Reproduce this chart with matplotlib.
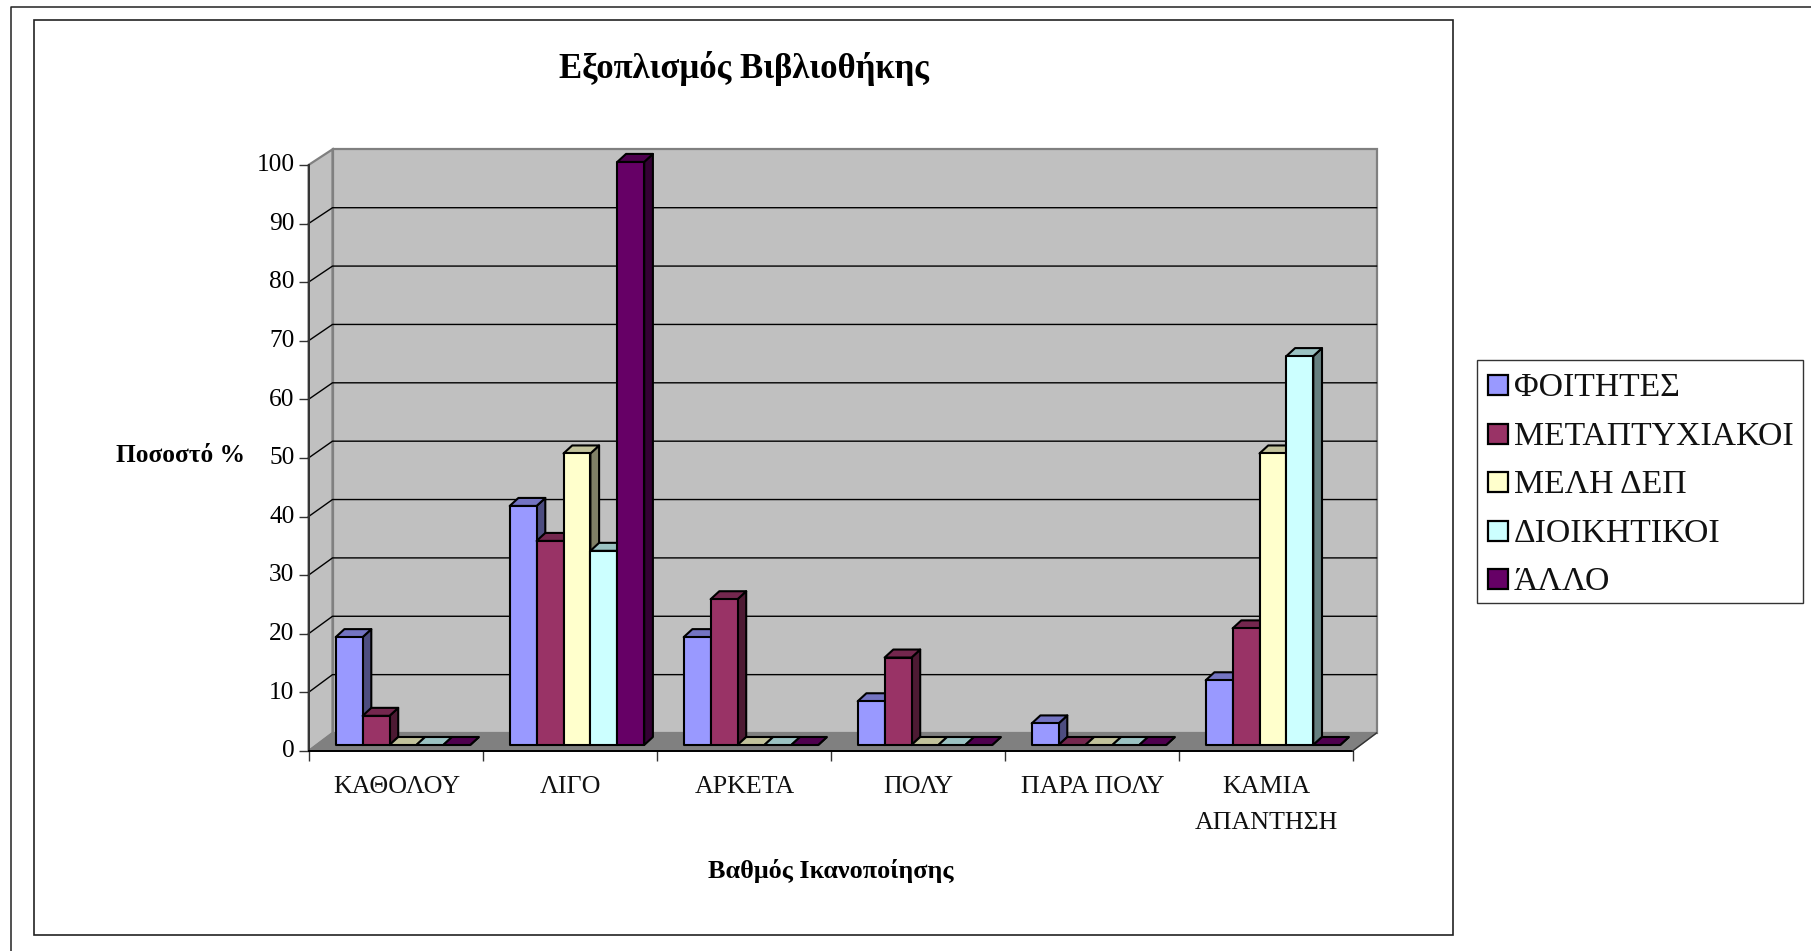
import matplotlib
matplotlib.use("Agg")
import matplotlib.pyplot as plt
from matplotlib.patches import Polygon, Rectangle
from matplotlib.colors import to_rgb
from matplotlib.transforms import ScaledTranslation

categories = ["ΚΑΘΟΛΟΥ", "ΛΙΓΟ", "ΑΡΚΕΤΑ", "ΠΟΛΥ", "ΠΑΡΑ ΠΟΛΥ", "ΚΑΜΙΑ\nΑΠΑΝΤΗΣΗ"]
series_names = ["ΦΟΙΤΗΤΕΣ", "ΜΕΤΑΠΤΥΧΙΑΚΟΙ", "ΜΕΛΗ ΔΕΠ", "ΔΙΟΙΚΗΤΙΚΟΙ", "ΆΛΛΟ"]
foitites = [18.5, 41, 18.5, 7.5, 3.7, 11.1]
metaptyxiakoi = [5, 35, 25, 15, 0, 20]
meli_dep = [0, 50, 0, 0, 0, 50]
dioikitikoi = [0, 33.3, 0, 0, 0, 66.7]
allo = [0, 100, 0, 0, 0, 0]
series = [foitites, metaptyxiakoi, meli_dep, dioikitikoi, allo]
colors = ["#9999FF", "#993366", "#FFFFCC", "#CCFFFF", "#660066"]
yticks = list(range(0, 101, 10))

W, H = 1811, 951
FONT = "Liberation Serif"
fig = plt.figure(figsize=(W / 100, H / 100), dpi=100, facecolor="white")

def box(x0, y0, x1, y1):
    return [x0 / W, 1 - y1 / H, (x1 - x0) / W, (y1 - y0) / H]

# frames
bg = fig.add_axes([0, 0, 1, 1], zorder=0)
bg.set_xlim(0, W); bg.set_ylim(H, 0); bg.axis("off")
bg.plot([10.5, 10.5, W + 5], [H + 5, 6.5, 6.5], color="#222222", lw=1.1)
bg.add_patch(Rectangle((34, 19.5), 1419, 915, fc="white", ec="#222222", lw=1.2))

# plot axes: the front plane of the 3-D box
ax = fig.add_axes(box(308.5, 165, 1352.5, 751), zorder=1)
ax.set_xlim(0, 6); ax.set_ylim(0, 100)
ax.patch.set_visible(False)
for s in ax.spines.values():
    s.set_visible(False)

DX = 24 / 174     # box depth, category units
DY = 18 / 5.86    # box depth, value units
SHRINK = 0.004    # heights shrink slightly with depth

def P(x, y, d=1.0):
    return (x + d * DX, y * (1 - SHRINK * d) + d * DY)

GREY = "#808080"
ax.add_patch(Polygon([P(0, 0, 1), P(6, 0, 1), P(6, 100, 1), P(0, 100, 1)], fc="#C0C0C0", ec=GREY, lw=1.6, clip_on=False, zorder=1))
ax.add_patch(Polygon([P(0, 0, 0), P(0, 0, 1), P(0, 100, 1), P(0, 100, 0)], fc="#C0C0C0", ec=GREY, lw=1.6, clip_on=False, zorder=1))
ax.add_patch(Polygon([P(0, 0, 0), P(6, 0, 0), P(6, 0, 1), P(0, 0, 1)], fc=GREY, ec=GREY, lw=1.0, clip_on=False, zorder=1))
for v in yticks[1:-1]:
    xs, ys = zip(P(0, v, 0), P(0, v, 1), P(6, v, 1))
    ax.plot(xs, ys, color="black", lw=1.0, clip_on=False, zorder=2)
ax.plot([0, 0], [0, 100], color="#333333", lw=1.4, clip_on=False, zorder=2)
xs, ys = zip(P(0, 0, 0), P(6, 0, 0), P(6, 0, 1))
ax.plot(xs[:2], ys[:2], color="black", lw=1.4, clip_on=False, zorder=2)
ax.plot(xs[1:], ys[1:], color="#333333", lw=1.0, clip_on=False, zorder=2)

def shade(c, f):
    return tuple(v * f for v in to_rgb(c))

BW = 26.9 / 174          # bar width
START = 27.2 / 174       # first bar's left edge in its category
BASE = 6 / 5.86          # floor offset of bar fronts, value units
SCALE = 0.995            # bars stand behind the front plane
BDX = 8.7 / 174          # bar depth, category units
BDY = 8 / 5.86           # bar depth, value units

def F(x, v):
    return (x, v * SCALE + BASE)

def B(x, v):
    return (x + BDX, v * SCALE + BASE + BDY)

z = 3
for i in range(len(categories)):
    for j, vals in enumerate(series):
        v = vals[i]
        x0 = i + START + j * BW
        x1 = x0 + BW
        c = colors[j]
        kw = dict(ec="black", lw=1.5, clip_on=False, joinstyle="round")
        ax.add_patch(Polygon([F(x1, 0), B(x1, 0), B(x1, v), F(x1, v)], fc=shade(c, .5), zorder=z, **kw))
        ax.add_patch(Polygon([F(x0, v), F(x1, v), B(x1, v), B(x0, v)], fc=shade(c, .76), zorder=z, **kw))
        if v > 0:
            ax.add_patch(Polygon([F(x0, 0), F(x1, 0), F(x1, v), F(x0, v)], fc=c, zorder=z + 0.5, **kw))
        z += 1

# ticks and labels
ax.set_yticks(yticks)
ax.set_yticklabels([str(t) for t in yticks], fontfamily=FONT, fontsize=18.3)
ax.set_xticks(range(7))
ax.set_xticklabels([""] * 7)
ax.tick_params(axis="both", length=7.5, width=1.0, color="#333333")
ax.tick_params(axis="y", pad=2.6)
up = ScaledTranslation(0, 2.3 / 100, fig.dpi_scale_trans)
for lab in ax.get_yticklabels():
    lab.set_transform(lab.get_transform() + up)
for i, c in enumerate(categories):
    ax.annotate(c, (i + .5, 0), xytext=(0.7, -17.7), xycoords="data", textcoords="offset points",
                ha="center", va="top", fontfamily=FONT, fontsize=18.7, linespacing=1.84, color="#111111")

fig.text(744 / W, 1 - 69 / H, "Εξοπλισμός Βιβλιοθήκης", ha="center", va="center", fontfamily=FONT, fontsize=25, fontweight="bold")
fig.text(180 / W, 1 - 456 / H, "Ποσοστό %", ha="center", va="center", fontfamily=FONT, fontsize=18.3, fontweight="bold")
fig.text(831 / W, 1 - 871 / H, "Βαθμός Ικανοποίησης", ha="center", va="center", fontfamily=FONT, fontsize=18.8, fontweight="bold")

# legend
bg.add_patch(Rectangle((1477, 359.5), 326, 243, fc="white", ec="#333333", lw=1.0))
for k, (n, c) in enumerate(zip(series_names, colors)):
    yc = 385 + k * 48.5
    bg.add_patch(Rectangle((1488, yc - 10), 20, 20, fc=c, ec="black", lw=1.6))
    bg.text(1514, yc + 3, n, ha="left", va="center", fontfamily=FONT, fontsize=24.3, color="#111111")

fig.savefig("out.png", dpi=100)
